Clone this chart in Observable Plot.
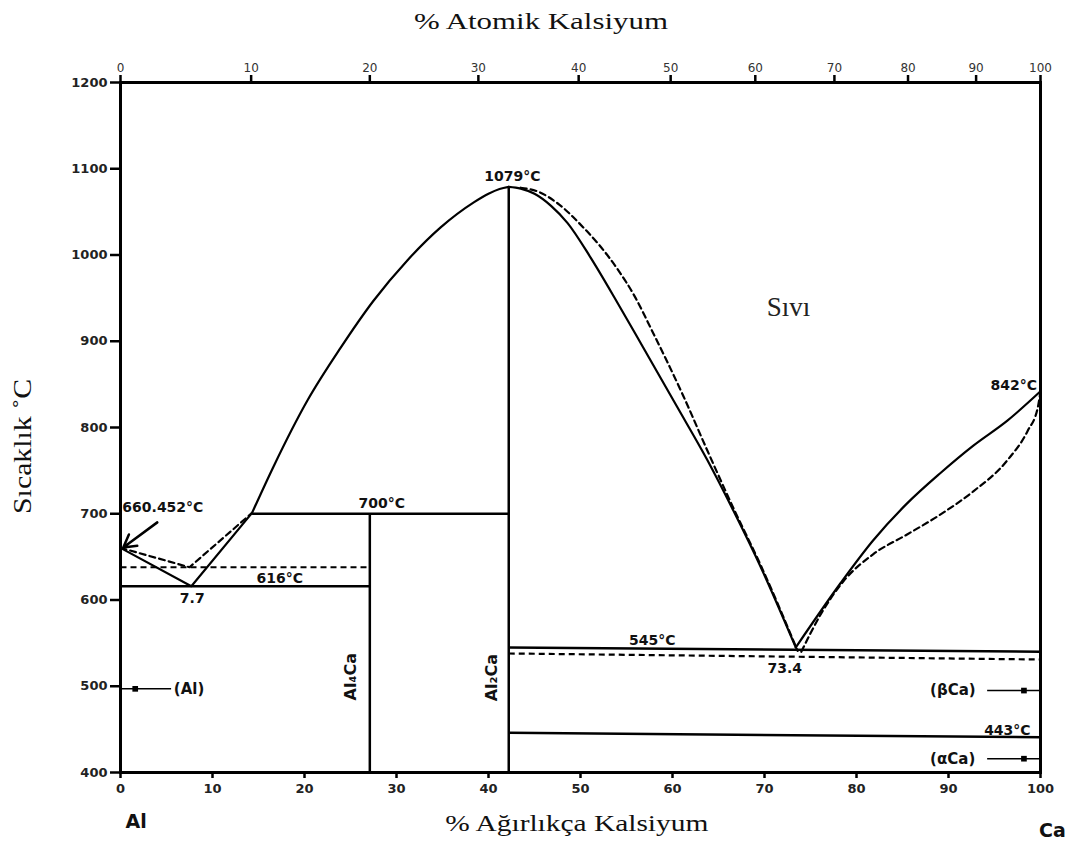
<!DOCTYPE html>
<html><head><meta charset="utf-8">
<script src="https://cdn.jsdelivr.net/npm/d3@7"></script>
<script src="https://cdn.jsdelivr.net/npm/@observablehq/plot@0.6"></script>
<style>body{margin:0;background:#fff}</style>
</head><body><div id="chart"></div>
<script>
// ---- axes ----
const wtTicks = [0, 10, 20, 30, 40, 50, 60, 70, 80, 90, 100];
const tempTicks = [400, 500, 600, 700, 800, 900, 1000, 1100, 1200];
const atomicTickLabels = [0, 10, 20, 30, 40, 50, 60, 70, 80, 90, 100];
const atomicTickWt = [0, 14.2, 27.1, 38.9, 49.8, 59.8, 69.0, 77.6, 85.6, 93.0, 100];

// ---- liquidus curves (wt% Ca, °C) ----
const liqAlSolid = [[0, 660.452], [7.7, 616], [14.3, 701]];
const liqAlDashed = [[0, 660.452], [7.5, 638], [14.3, 701]];
const liqAl2CaLeft = [[14.3, 701], [16.6, 754], [20.3, 831], [23.9, 892], [27.5, 947], [31.2, 994], [34.8, 1032], [38.4, 1061], [40.0, 1071], [41.2, 1076.5], [42.2, 1079]];
const liqAl2CaRight = [[42.2, 1079], [43.5, 1077], [45.0, 1071], [46.8, 1057], [48.6, 1037], [51.1, 997], [54.0, 945], [56.8, 893], [60.5, 824], [63.8, 762], [66.6, 704], [69.6, 638], [73.4, 545]];
const liqAl2CaRightDashed = [[43.5, 1078], [45.5, 1073], [47.5, 1060], [50.3, 1032], [52.0, 1012], [54.0, 984], [56.0, 950], [57.6, 916], [61.2, 836], [63.8, 773], [66.6, 707], [69.6, 640], [73.6, 541]];
const liqCaSolid = [[73.4, 545], [78.3, 620], [81.8, 669], [85.5, 712], [89.1, 747], [92.7, 779], [96.4, 808], [100, 842]];
const liqCaDashed = [[74.0, 540], [76.2, 585], [78.6, 622], [81.8, 653], [85.5, 676], [89.1, 699], [92.7, 726], [96.4, 762], [98.6, 796], [99.7, 823], [100, 842]];

// ---- invariant lines & compounds [x1, T1, x2, T2] ----
const solidSegments = [
  [14.3, 700, 42.2, 700],   // 700°C
  [0, 616, 27.1, 616],      // 616°C eutectic
  [42.2, 545, 100, 540],    // 545°C eutectic
  [42.2, 446, 100, 441],    // 443°C
  [27.1, 700, 27.1, 400],   // Al4Ca
  [42.2, 1079, 42.2, 400]   // Al2Ca
];
const dashedSegments = [
  [0, 638, 27.1, 638],
  [42.2, 538, 100, 531]
];

// ---- annotations ----
const noteLabels = ["660.452°C", "7.7", "616°C", "700°C", "1079°C", "545°C", "73.4", "842°C", "443°C"];
const noteWt     = [0.2, 7.8, 17.3, 28.4, 42.6, 57.8, 72.2, 97.1, 96.4];
const noteT      = [707, 602, 625, 712, 1091, 553, 521, 849, 449];
const noteAnchor = ["start", "middle", "middle", "middle", "middle", "middle", "middle", "middle", "middle"];

const phaseLabels = ["(Al)", "(βCa)", "(αCa)"];
const phaseWt = [5.8, 88.0, 88.0];
const phaseT = [497, 495, 416];
const phaseLineFrom = [5.5, 94.2, 94.2];
const phaseLineTo = [0, 100, 100];
const phaseDotWt = [1.6, 98.2, 98.2];

const compoundLabels = ["Al₄Ca", "Al₂Ca"];
const compoundWt = [25.0, 40.4];
const compoundT = [511, 510];

const arrow660 = [[4.0, 690, 0.3, 661]];

const liquidLabel = ["Sıvı"];
const liquidWt = [72.6];
const liquidT = [939];

const topTitle = "% Atomik Kalsiyum";
const bottomTitle = "% Ağırlıkça Kalsiyum";
const yTitle = "Sıcaklık ˚C";

// ---- build tables ----
const notes = noteLabels.map((t, i) => ({t, x: noteWt[i], y: noteT[i], a: noteAnchor[i]}));
const phases = phaseLabels.map((t, i) => ({t, x: phaseWt[i], y: phaseT[i], x1: phaseLineFrom[i], x2: phaseLineTo[i], dx: phaseDotWt[i]}));
const compounds = compoundLabels.map((t, i) => ({t, x: compoundWt[i], y: compoundT[i]}));
const atomicMap = new Map(atomicTickWt.map((w, i) => [w, String(atomicTickLabels[i])]));

const lineW = 2.2;
const dash = "6,4";
const seg = {x1: d => d[0], y1: d => d[1], x2: d => d[2], y2: d => d[3]};
const noteFont = {fontFamily: "DejaVu Sans", fontWeight: "bold", fontSize: 14, fill: "#111"};
const smooth = "monotone-x";

const chart = Plot.plot({
  width: 1072,
  height: 848,
  marginLeft: 120,
  marginRight: 32,
  marginTop: 82,
  marginBottom: 76,
  x: {domain: [0, 100]},
  y: {domain: [400, 1200]},
  style: {fontFamily: "DejaVu Sans", background: "white", overflow: "visible"},
  marks: [
    Plot.axisY({ticks: tempTicks, tickFormat: d => String(d), tickSize: 10, tickPadding: 3, fontSize: 13, fontWeight: "bold", strokeWidth: 2.5, label: null, fill: "#222"}),
    Plot.axisX({ticks: wtTicks, tickFormat: d => String(d), tickSize: 6, tickPadding: 5, fontSize: 13, fontWeight: "bold", strokeWidth: 2.5, label: null, fill: "#222"}),
    Plot.axisX({anchor: "top", ticks: atomicTickWt, tickFormat: d => atomicMap.get(d), tickSize: 8, tickPadding: 3, fontSize: 12, strokeWidth: 2.5, label: null, fill: "#333"}),
    Plot.frame({strokeWidth: 3, stroke: "#000"}),

    Plot.line(liqAlSolid, {strokeWidth: lineW}),
    Plot.line(liqAlDashed, {strokeWidth: lineW, strokeDasharray: dash}),
    Plot.line(liqAl2CaLeft, {strokeWidth: lineW, curve: smooth}),
    Plot.line(liqAl2CaRight, {strokeWidth: lineW, curve: smooth}),
    Plot.line(liqAl2CaRightDashed, {strokeWidth: lineW, curve: smooth, strokeDasharray: dash}),
    Plot.line(liqCaSolid, {strokeWidth: lineW, curve: smooth}),
    Plot.line(liqCaDashed, {strokeWidth: lineW, curve: smooth, strokeDasharray: dash}),

    Plot.link(solidSegments, {...seg, strokeWidth: 2.5}),
    Plot.link(dashedSegments, {...seg, strokeWidth: lineW, strokeDasharray: dash}),

    Plot.arrow(arrow660, {...seg, strokeWidth: 2.5, headLength: 12}),

    Plot.link(phases, {x1: "x1", x2: "x2", y1: "y", y2: "y", strokeWidth: 1.5}),
    Plot.dot(phases, {x: "dx", y: "y", r: 3.2, fill: "#000", symbol: "square"}),
    Plot.text(phases, {x: "x", y: "y", text: "t", textAnchor: "start", ...noteFont, fontSize: 15}),

    Plot.text(notes.filter(d => d.a === "start"), {x: "x", y: "y", text: "t", textAnchor: "start", ...noteFont}),
    Plot.text(notes.filter(d => d.a === "middle"), {x: "x", y: "y", text: "t", textAnchor: "middle", ...noteFont}),

    Plot.text(compounds, {x: "x", y: "y", text: "t", rotate: -90, ...noteFont, fontSize: 16}),

    Plot.text(liquidLabel, {x: () => liquidWt[0], y: () => liquidT[0], text: d => d, fontFamily: "Liberation Serif", fontSize: 27, fill: "#222"}),

    Plot.text([topTitle], {text: d => d, x: () => 45.7, frameAnchor: "top", lineAnchor: "middle", textAnchor: "middle", dy: -61, fontFamily: "Liberation Serif", fontSize: 24, fill: "#111"}),
    Plot.text([bottomTitle], {text: d => d, x: () => 49.6, frameAnchor: "bottom", lineAnchor: "middle", textAnchor: "middle", dy: 51, fontFamily: "Liberation Serif", fontSize: 24, fill: "#111"}),
    Plot.text(["Al"], {text: d => d, x: () => 1.7, frameAnchor: "bottom", lineAnchor: "middle", textAnchor: "middle", dy: 49, fontFamily: "DejaVu Sans", fontWeight: "bold", fontSize: 19, fill: "#111"}),
    Plot.text(["Ca"], {text: d => d, x: () => 101.3, frameAnchor: "bottom", lineAnchor: "middle", textAnchor: "middle", dy: 58, fontFamily: "DejaVu Sans", fontWeight: "bold", fontSize: 19, fill: "#111"}),
    Plot.text([yTitle], {text: d => d, y: () => 778, frameAnchor: "left", lineAnchor: "middle", textAnchor: "middle", dx: -98, rotate: -90, fontFamily: "Liberation Serif", fontSize: 26, fill: "#111"})
  ]
});
document.getElementById("chart").appendChild(chart);

// stretch the serif titles to their measured lengths in the reference
const stretch = new Map([[topTitle, 254], [bottomTitle, 263], [yTitle, 135]]);
d3.select(chart).selectAll("text")
  .filter(function () { return stretch.has(this.textContent); })
  .each(function () {
    d3.select(this).attr("textLength", stretch.get(this.textContent)).attr("lengthAdjust", "spacingAndGlyphs");
  });
</script></body></html>
